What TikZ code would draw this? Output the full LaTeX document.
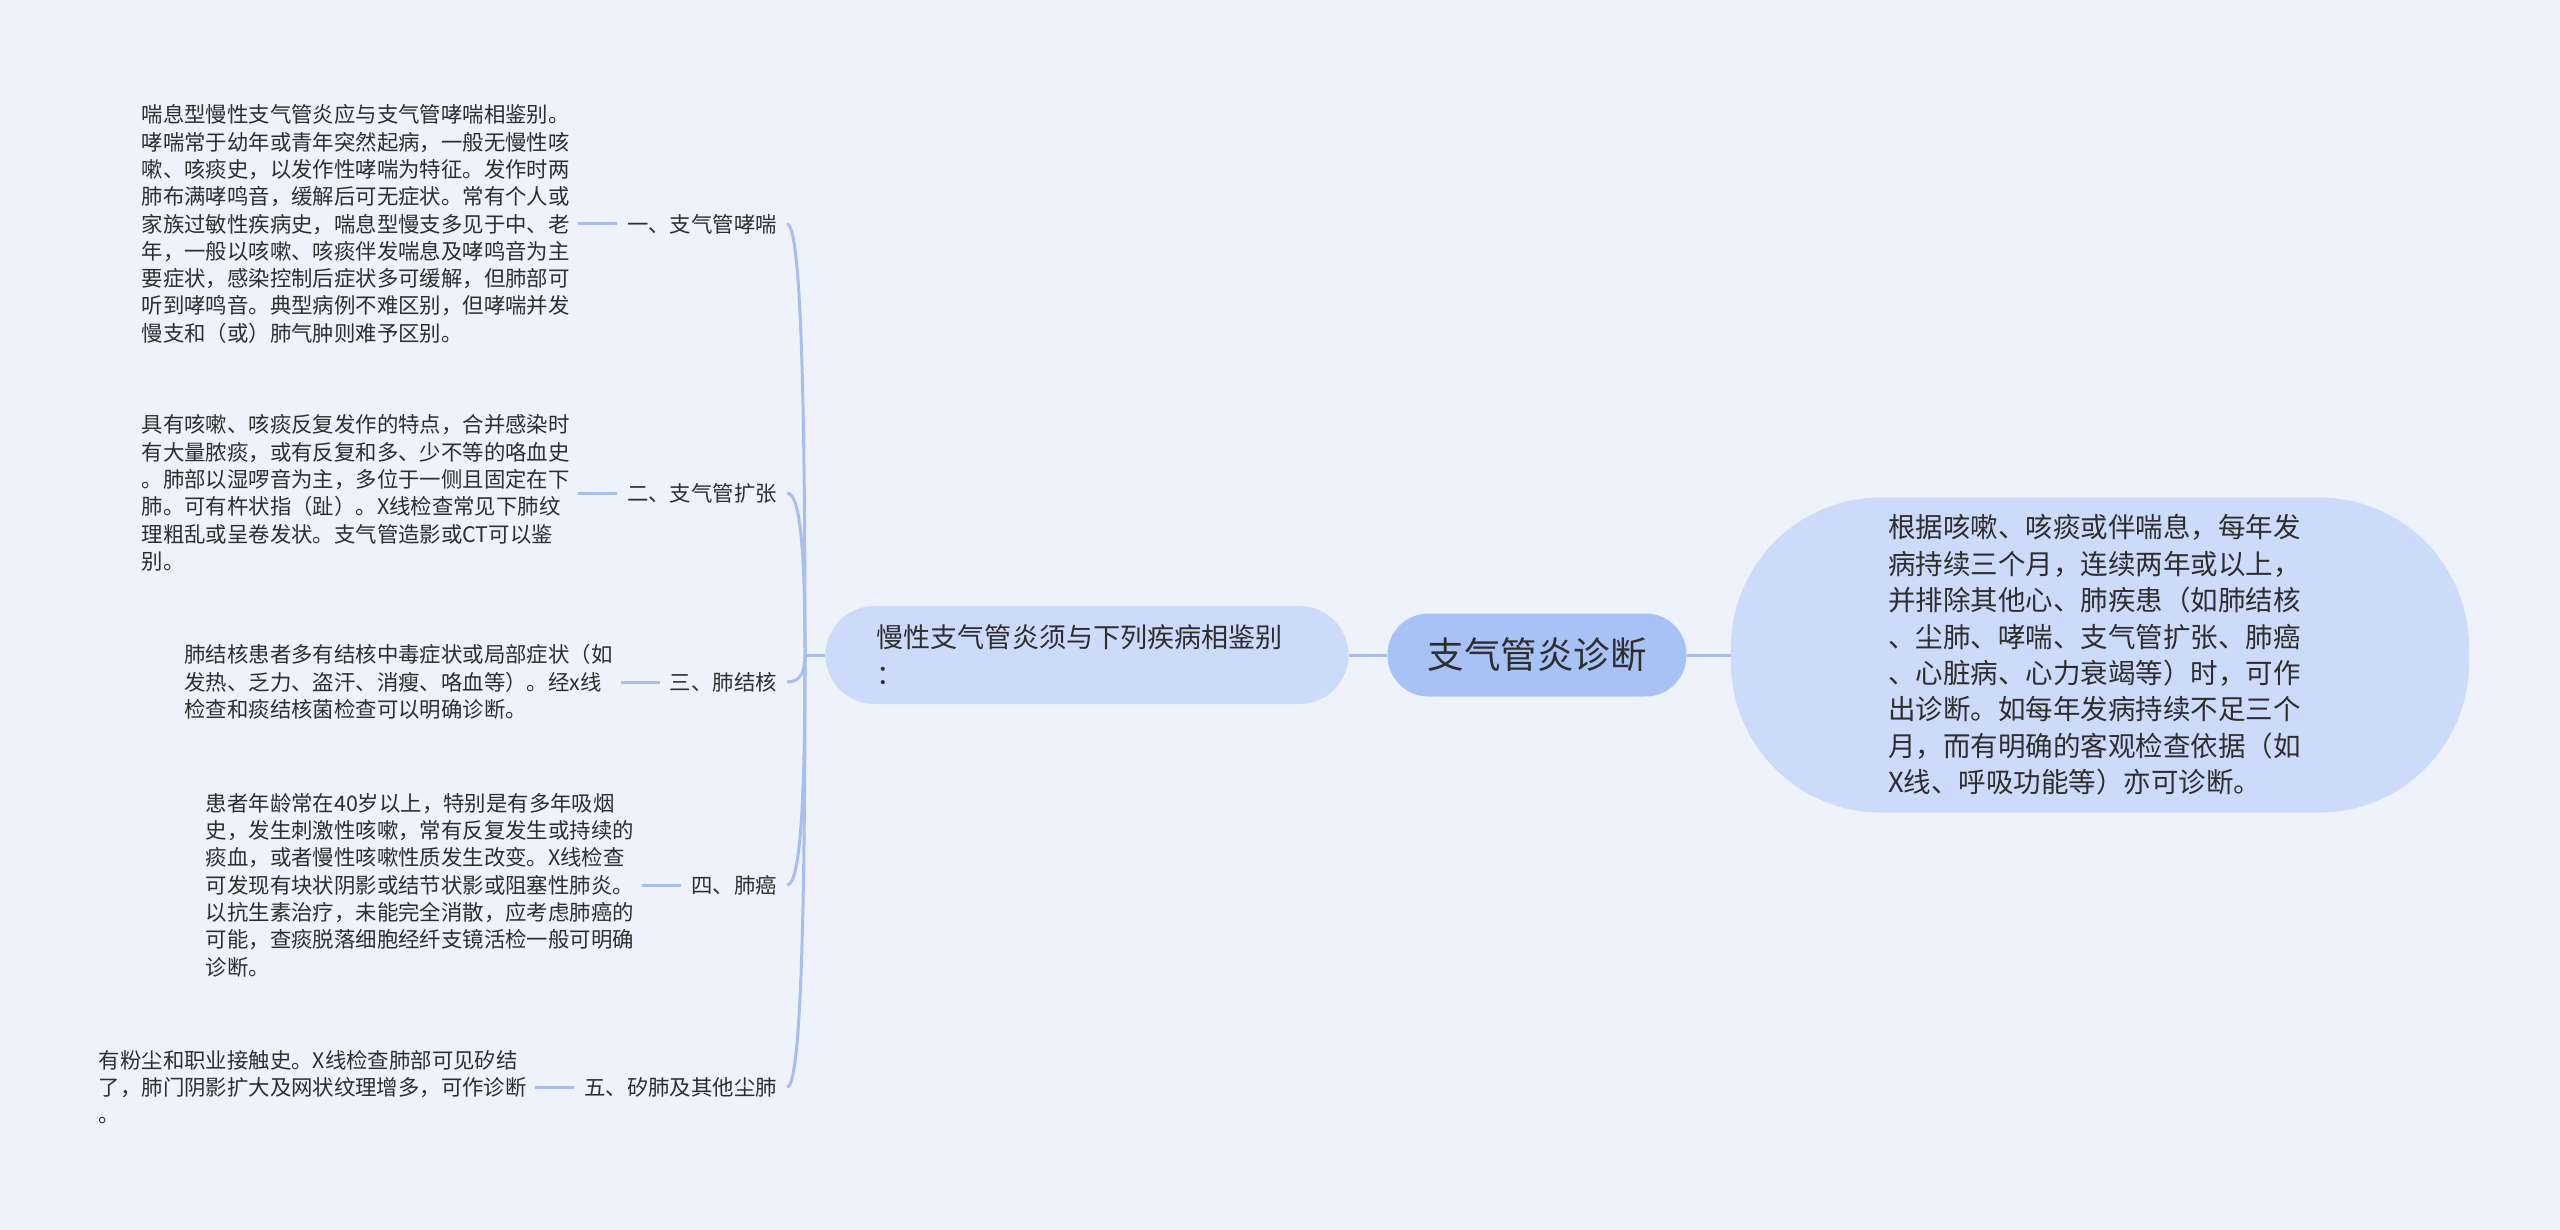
\documentclass[tikz,border=0pt]{standalone}
\usepackage{fontspec}
\setmainfont{Noto Sans CJK SC}
\usepackage{xcolor}
\usetikzlibrary{calc,positioning}
\definecolor{fondo}{HTML}{EEF3FB}
\definecolor{raiz}{HTML}{A9C2F6}
\definecolor{rama}{HTML}{CCDBFA}
\definecolor{linea}{HTML}{A8BFEE}
\definecolor{texto}{HTML}{2E2E2E}
\tikzset{
  raizbox/.style = {fill=raiz, text=texto, rounded corners=41pt, minimum width=299pt, minimum height=83pt, font=\fontsize{36.5}{40}\selectfont},
  ramabox/.style = {fill=rama, text=texto, align=left},
  etiq/.style    = {anchor=east, text=texto, inner xsep=10pt, inner ysep=0pt, font=\fontsize{21.4}{27.3}\selectfont},
  hoja/.style    = {text=texto, align=left, inner xsep=8pt, inner ysep=0pt, font=\fontsize{21.4}{27.3}\selectfont},
  conector/.style = {draw=linea, line width=3pt}
}

\begin{document}
\begin{tikzpicture}[x=1pt, y=-1pt]
  \useasboundingbox[fill=fondo] (0,0) rectangle (2560,1230);
  % centro y ramas principales
  \node[raizbox] (raiz) at (1537,655) {支气管炎诊断};
  \node[ramabox, inner xsep=51pt, text width=421pt, minimum height=98pt, rounded corners=49pt, font=\fontsize{27.1}{37}\selectfont] (medio) at (1087,655) {慢性支气管炎须与下列疾病相鉴别\\：};
  \node[ramabox, inner xsep=157pt, text width=424pt, minimum height=315pt, rounded corners=150pt, font=\fontsize{27.5}{36.4}\selectfont] (crit) at (2100,655)
    {根据咳嗽、咳痰或伴喘息，每年发\\病持续三个月，连续两年或以上，\\并排除其他心、肺疾患（如肺结核\\、尘肺、哮喘、支气管扩张、肺癌\\、心脏病、心力衰竭等）时，可作\\出诊断。如每年发病持续不足三个\\月，而有明确的客观检查依据（如\\X线、呼吸功能等）亦可诊断。};
  \coordinate (hub) at (805,655);
  \draw[conector] (medio.east) -- (raiz.west);
  \draw[conector] (raiz.east) -- (crit.west);
  \draw[conector] (hub) -- (medio.west);
  % diagnosticos diferenciales
  \node[etiq] (l1) at (787,224) {一、支气管哮喘};
  \node[etiq] (l2) at (787,493) {二、支气管扩张};
  \node[etiq] (l3) at (787,682) {三、肺结核};
  \node[etiq] (l4) at (787,885) {四、肺癌};
  \node[etiq] (l5) at (787,1087) {五、矽肺及其他尘肺};
  \node[hoja, left=39pt of l1] (t1) {喘息型慢性支气管炎应与支气管哮喘相鉴别。\\哮喘常于幼年或青年突然起病，一般无慢性咳\\嗽、咳痰史，以发作性哮喘为特征。发作时两\\肺布满哮鸣音，缓解后可无症状。常有个人或\\家族过敏性疾病史，喘息型慢支多见于中、老\\年，一般以咳嗽、咳痰伴发喘息及哮鸣音为主\\要症状，感染控制后症状多可缓解，但肺部可\\听到哮鸣音。典型病例不难区别，但哮喘并发\\慢支和（或）肺气肿则难予区别。};
  \node[hoja, left=39pt of l2] (t2) {具有咳嗽、咳痰反复发作的特点，合并感染时\\有大量脓痰，或有反复和多、少不等的咯血史\\。肺部以湿啰音为主，多位于一侧且固定在下\\肺。可有杵状指（趾）。X线检查常见下肺纹\\理粗乱或呈卷发状。支气管造影或CT可以鉴\\别。};
  \node[hoja, left=39pt of l3] (t3) {肺结核患者多有结核中毒症状或局部症状（如\\发热、乏力、盗汗、消瘦、咯血等）。经x线\\检查和痰结核菌检查可以明确诊断。};
  \node[hoja, left=39pt of l4] (t4) {患者年龄常在40岁以上，特别是有多年吸烟\\史，发生刺激性咳嗽，常有反复发生或持续的\\痰血，或者慢性咳嗽性质发生改变。X线检查\\可发现有块状阴影或结节状影或阻塞性肺炎。\\以抗生素治疗，未能完全消散，应考虑肺癌的\\可能，查痰脱落细胞经纤支镜活检一般可明确\\诊断。};
  \node[hoja, left=39pt of l5] (t5) {有粉尘和职业接触史。X线检查肺部可见矽结\\了，肺门阴影扩大及网状纹理增多，可作诊断\\。};
  \foreach \l in {l1,l2,l3,l4,l5}{
    \draw[conector] (hub) .. controls ($(hub)!0.6!(hub |- \l.east)$) and ($(hub |- \l.east)+(-4,0)$) .. (\l.east);
  }
  \foreach \i in {1,...,5}{\draw[conector] (t\i.east) -- (l\i.west);}
\end{tikzpicture}
\end{document}
